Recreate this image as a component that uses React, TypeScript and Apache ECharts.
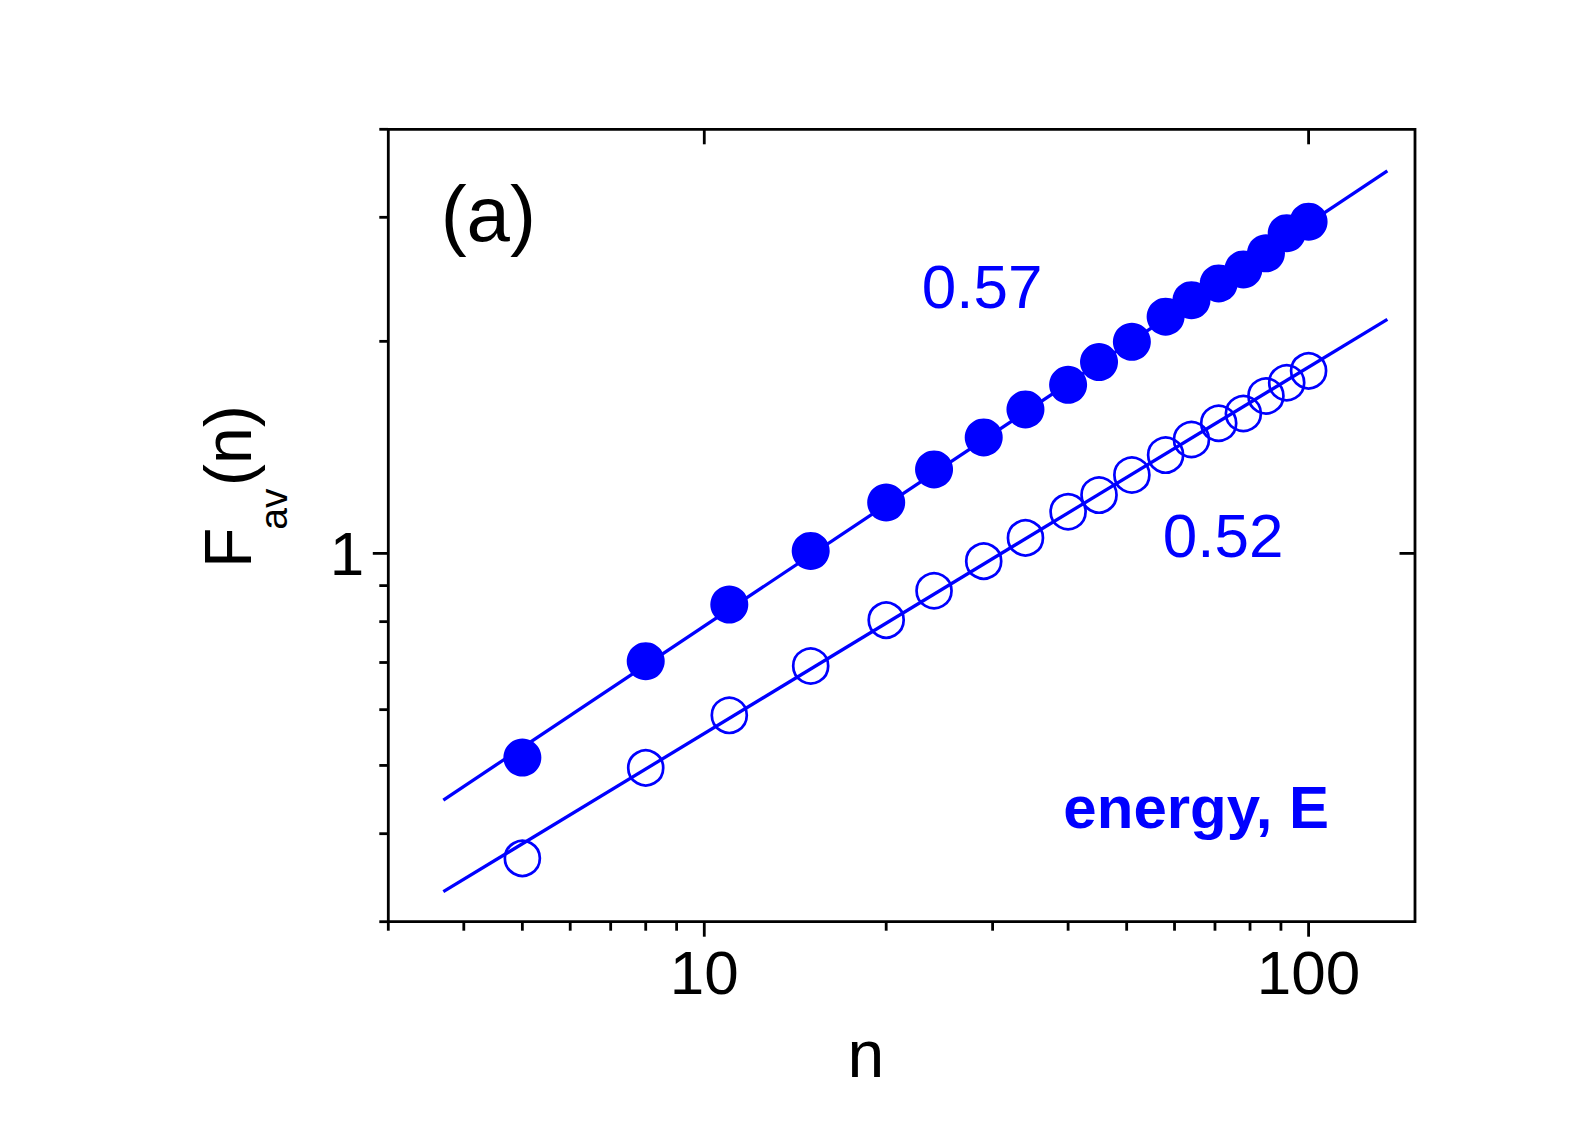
import React, { useEffect, useRef } from "react";
import * as echarts from "echarts";

// ---- data ----
const nValues = [5, 8, 11, 15, 20, 24, 29, 34, 40, 45, 51, 58, 64, 71, 78, 85, 92, 100];
const fFilled = [0.513, 0.703, 0.846, 1.008, 1.181, 1.316, 1.461, 1.601, 1.735, 1.869, 1.997, 2.168, 2.288, 2.417, 2.53, 2.667, 2.848, 2.957];
const fOpen = [0.369, 0.496, 0.589, 0.692, 0.804, 0.885, 0.975, 1.052, 1.146, 1.21, 1.292, 1.379, 1.451, 1.53, 1.58, 1.673, 1.747, 1.816];

const fitN = [3.7, 135.0];
const fitFilled = [0.4465, 3.493];
const fitOpen = [0.3309, 2.149];

const X_MIN = 3;
const X_MAX = 150;
const Y_MIN = 0.3;
const Y_MAX = 4;

const xMajorTicks = [10, 100];
const xMinorTicks = [3, 4, 5, 6, 7, 8, 9, 20, 30, 40, 50, 60, 70, 80, 90];
const yMajorTicks = [1];
const yMinorTicks = [0.3, 0.4, 0.5, 0.6, 0.7, 0.8, 0.9, 2, 3, 4];

const BLUE = "#0000ff";
const FONT = "'Liberation Sans', Arial, Helvetica, sans-serif";

type Side = "bottom" | "top" | "left" | "right";

function tickSeries(vals: number[], side: Side, len: number) {
  return {
    type: "custom",
    silent: true,
    clip: false,
    z: 10,
    data: vals.map((v) =>
      side === "bottom" ? [v, Y_MIN] : side === "top" ? [v, Y_MAX] : side === "left" ? [X_MIN, v] : [X_MAX, v]
    ),
    renderItem: (_params: any, api: any) => {
      const p = api.coord([api.value(0), api.value(1)]);
      let x2 = p[0];
      let y2 = p[1];
      if (side === "bottom") y2 += len;
      else if (side === "top") y2 += len;
      else if (side === "left") x2 -= len;
      else x2 -= len;
      return {
        type: "line",
        shape: { x1: p[0], y1: p[1], x2, y2 },
        style: { stroke: "#000", lineWidth: 2.8 },
      };
    },
  };
}

function labelFmt(v: number) {
  const l = Math.log10(v);
  if (Math.abs(l - Math.round(l)) < 1e-6) return String(Math.round(v));
  return "";
}

function txt(text: string, x: number, y: number, size: number, color: string, opts: any = {}) {
  return {
    type: "text",
    x,
    y,
    rotation: opts.rotation || 0,
    silent: true,
    z: 20,
    style: {
      text,
      fill: color,
      fontSize: size,
      fontFamily: FONT,
      fontWeight: opts.bold ? "bold" : "normal",
      align: opts.align || "center",
      textAlign: opts.align || "center",
      verticalAlign: "middle",
      textVerticalAlign: "middle",
    },
  };
}

export default function App() {
  const ref = useRef<HTMLDivElement>(null);

  useEffect(() => {
    if (!ref.current) return;
    const chart = echarts.init(ref.current, undefined, { renderer: "svg" });
    const option: any = {
      animation: false,
      backgroundColor: "#ffffff",
      grid: {
        left: 388.3,
        top: 129.3,
        width: 1026.7,
        height: 792.4,
        show: true,
        borderColor: "#000",
        borderWidth: 2.8,
        backgroundColor: "transparent",
      },
      xAxis: {
        type: "log",
        logBase: 10,
        min: X_MIN,
        max: X_MAX,
        axisLine: { show: false },
        axisTick: { show: false },
        splitLine: { show: false },
        minorTick: { show: false },
        axisLabel: {
          formatter: labelFmt,
          fontSize: 62,
          fontFamily: FONT,
          color: "#000",
          margin: 20,
          showMinLabel: true,
          showMaxLabel: true,
        },
      },
      yAxis: {
        type: "log",
        logBase: 10,
        min: Y_MIN,
        max: Y_MAX,
        axisLine: { show: false },
        axisTick: { show: false },
        splitLine: { show: false },
        minorTick: { show: false },
        axisLabel: {
          formatter: labelFmt,
          fontSize: 62,
          fontFamily: FONT,
          color: "#000",
          margin: 24,
          padding: [0, 0, 9, 0],
        },
      },
      graphic: [
        txt("(a)", 488.3, 214, 78, "#000"),
        txt("0.57", 982.2, 286.2, 62, BLUE),
        txt("0.52", 1223.2, 535.8, 62, BLUE),
        txt("energy, E", 1196.2, 807.5, 60, BLUE, { bold: true }),
        txt("n", 865.9, 1053.8, 66, "#000"),
        txt("F", 227.8, 567.9, 66, "#000", { rotation: Math.PI / 2, align: "left" }),
        txt("av", 273.8, 529.7, 39, "#000", { rotation: Math.PI / 2, align: "left" }),
        txt("(n)", 227.8, 486, 66, "#000", { rotation: Math.PI / 2, align: "left" }),
      ],
      series: [
        {
          type: "line",
          data: fitN.map((n, i) => [n, fitFilled[i]]),
          showSymbol: false,
          symbol: "none",
          silent: true,
          lineStyle: { color: BLUE, width: 3.3 },
          z: 2,
        },
        {
          type: "line",
          data: fitN.map((n, i) => [n, fitOpen[i]]),
          showSymbol: false,
          symbol: "none",
          silent: true,
          lineStyle: { color: BLUE, width: 3.3 },
          z: 2,
        },
        {
          type: "scatter",
          data: nValues.map((n, i) => [n, fFilled[i]]),
          symbol: "circle",
          symbolSize: 38,
          silent: true,
          itemStyle: { color: BLUE, opacity: 1 },
          z: 3,
        },
        {
          type: "scatter",
          data: nValues.map((n, i) => [n, fOpen[i]]),
          symbol: "circle",
          symbolSize: 35,
          silent: true,
          itemStyle: { color: "rgba(0,0,0,0)", borderColor: BLUE, borderWidth: 2.7, opacity: 1 },
          z: 3,
        },
        tickSeries(xMajorTicks, "bottom", 15),
        tickSeries(xMinorTicks, "bottom", 9),
        tickSeries(yMajorTicks, "left", 15.5),
        tickSeries(yMinorTicks, "left", 9),
        tickSeries(xMajorTicks, "top", 15),
        tickSeries(yMajorTicks, "right", 15.5),
      ],
    };
    chart.setOption(option);
    return () => {
      chart.dispose();
    };
  }, []);

  return (
    <div
      ref={ref}
      style={{ position: "fixed", left: 0, top: 0, width: 1590, height: 1125, background: "#fff" }}
    />
  );
}
